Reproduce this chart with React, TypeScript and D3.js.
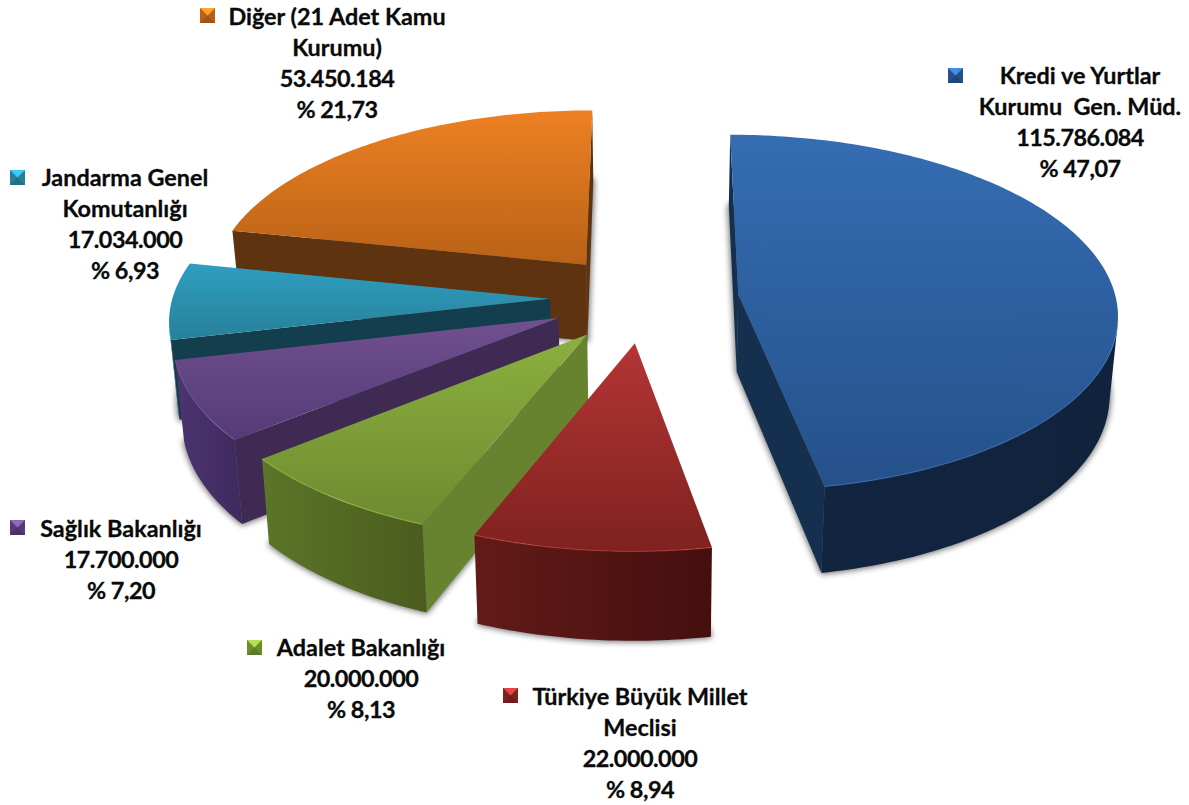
import React from 'react';
import * as d3 from 'd3';

const labelLines = [
  ['Kredi ve Yurtlar', 'Kurumu  Gen. Müd.'],
  ['Türkiye Büyük Millet', 'Meclisi'],
  ['Adalet Bakanlığı'],
  ['Sağlık Bakanlığı'],
  ['Jandarma Genel', 'Komutanlığı'],
  ['Diğer (21 Adet Kamu', 'Kurumu)'],
];
const values = [115786084, 22000000, 20000000, 17700000, 17034000, 53450184];

const topLight = ['#356db3', '#b43535', '#8bb03f', '#71508f', '#2f9ec0', '#ed8023'];
const topDark = ['#25518a', '#7e2220', '#6e8b30', '#553a78', '#27809a', '#b96216'];
const radialColors = ['#15304f', '#621b18', '#68832f', '#3e2a52', '#123e4d', '#5f3210'];
const wallLeft = ['#122540', '#621b18', '#5c7528', '#4c3570', '#123e4d', '#5f3210'];
const wallRight = ['#11223c', '#450f0e', '#4b5c1e', '#3f2a5e', '#123e4d', '#5f3210'];

// label block: center x, first baseline. marker: left, top
const labelX = [1080, 640, 361, 121, 125, 337];
const labelY = [84, 705, 656, 537, 186, 25];
const markerX = [948, 503, 247, 10, 10, 200];
const markerY = [68, 688, 640, 520, 170, 8];

const drawOrder = [5, 0, 4, 3, 2, 1];

// perspective of the pie plane, found from the slice corners
const width = 1189;
const height = 805;
const cx = 652;
const cy = 300;
const radiusX = 378;
const radiusY = 177;
const persp = 0.103;
const depth = 78;
const depthShrink = 0.018;
const explode = 0.25;
const shiftX = -0.02;
const shiftY = 0.01;

const project = (x: number, y: number, z: number): [number, number] => {
  const w = 1 + persp * y;
  return [cx + ((radiusX * x) / w) * (1 - depthShrink * z), cy + (-radiusY * y + depth * z) / w];
};

const area = (pts: [number, number][]) => d3.polygonArea(pts);

const App = () => {
  const svgRef = React.useRef<SVGSVGElement>(null);

  React.useEffect(() => {
    const svg = d3.select(svgRef.current);
    svg.selectAll('*').remove();

    const total = d3.sum(values);
    const locale = d3.formatLocale({ decimal: ',', thousands: '.', grouping: [3], currency: ['', ''] });
    const fmtValue = locale.format(',d');
    const fmtPct = locale.format('.2f');

    const pie = d3.pie<number>().value((d) => d).sort(null).startAngle(0).endAngle(2 * Math.PI);
    const arcs = pie(values);
    const line = d3.line();

    const defs = svg.append('defs');
    defs.append('filter').attr('id', 'soft').attr('x', '-10%').attr('y', '-10%').attr('width', '120%').attr('height', '120%')
      .append('feGaussianBlur').attr('stdDeviation', 3.2);

    arcs.forEach((a, i) => {
      const top = defs.append('linearGradient').attr('id', `top${i}`).attr('x1', 0).attr('y1', 0).attr('x2', 0).attr('y2', 1);
      top.append('stop').attr('offset', 0).attr('stop-color', topLight[i]);
      top.append('stop').attr('offset', 1).attr('stop-color', topDark[i]);
      const wall = defs.append('linearGradient').attr('id', `wall${i}`).attr('x1', 0).attr('y1', 0).attr('x2', 1).attr('y2', 0);
      wall.append('stop').attr('offset', 0).attr('stop-color', wallLeft[i]);
      wall.append('stop').attr('offset', 1).attr('stop-color', wallRight[i]);
    });

    const slices = arcs.map((a, i) => {
      const mid = (a.startAngle + a.endAngle) / 2;
      const ox = explode * Math.sin(mid) + shiftX;
      const oy = explode * Math.cos(mid) + shiftY;
      const n = Math.ceil(((a.endAngle - a.startAngle) * 180) / Math.PI);
      const angles = d3.range(n + 1).map((k) => a.startAngle + ((a.endAngle - a.startAngle) * k) / n);
      const rim = (z: number) => angles.map((t) => project(ox + Math.sin(t), oy + Math.cos(t), z));
      return { i, apexTop: project(ox, oy, 0), apexBot: project(ox, oy, 1), rimTop: rim(0), rimBot: rim(1) };
    });

    // soft shadow comes from the underside, all of them sit behind the slices
    const shadows = svg.append('g').attr('filter', 'url(#soft)');
    slices.forEach((s) => {
      shadows.append('path')
        .attr('d', line([s.apexBot, ...s.rimBot]) + 'Z')
        .attr('fill', '#000').attr('fill-opacity', 0.55)
        .attr('stroke', '#000').attr('stroke-opacity', 0.55).attr('stroke-width', 2);
    });

    drawOrder.forEach((idx) => {
      const s = slices[idx];
      const g = svg.append('g');
      const lastT = s.rimTop[s.rimTop.length - 1];
      const lastB = s.rimBot[s.rimBot.length - 1];

      // the two cut faces, only when they look at the camera
      const faces: [number, number][][] = [
        [s.apexTop, s.rimTop[0], s.rimBot[0], s.apexBot],
        [lastT, s.apexTop, s.apexBot, lastB],
      ];
      faces.forEach((f) => {
        if (area(f) > 0) {
          g.append('path').attr('d', line(f) + 'Z').attr('fill', radialColors[idx]);
        }
      });

      // outer wall, keep the part of the rim that faces us
      const visible = d3.range(s.rimTop.length - 1).filter((k) =>
        area([s.rimTop[k], s.rimTop[k + 1], s.rimBot[k + 1], s.rimBot[k]]) > 0);
      if (visible.length) {
        const from = visible[0];
        const to = visible[visible.length - 1] + 1;
        const upper = s.rimTop.slice(from, to + 1);
        const lower = s.rimBot.slice(from, to + 1).reverse();
        g.append('path').attr('d', line([...upper, ...lower]) + 'Z').attr('fill', `url(#wall${idx})`);
      }

      g.append('path')
        .attr('d', line([s.apexTop, ...s.rimTop]) + 'Z')
        .attr('fill', `url(#top${idx})`);

      // small bevel along the front of the rim
      if (visible.length) {
        const from = visible[0];
        const to = visible[visible.length - 1] + 1;
        g.append('path')
          .attr('d', line(s.rimTop.slice(from, to + 1)))
          .attr('fill', 'none')
          .attr('stroke', d3.color(topLight[idx])!.brighter(0.5).formatHex())
          .attr('stroke-opacity', 0.55)
          .attr('stroke-width', 1.2);
      }
    });

    // labels
    const labels = svg.append('g')
      .attr('font-family', 'Lato, sans-serif')
      .attr('font-weight', 700)
      .attr('font-size', 23.4)
      .attr('fill', '#0a0a0a')
      .attr('stroke', '#0a0a0a')
      .attr('stroke-width', 0.3)
      .attr('text-anchor', 'middle');

    values.forEach((v, i) => {
      const names = labelLines[i];
      const lines = [...names, fmtValue(v), `% ${fmtPct((v / total) * 100)}`];
      lines.forEach((txt, k) => {
        labels.append('text')
          .attr('x', labelX[i])
          .attr('y', labelY[i] + k * 31)
          // Lato digits run wider than the original's, pull the numbers in
          .attr('letter-spacing', k >= names.length ? -0.5 : 0)
          .style('white-space', 'pre')
          .text(txt);
      });

      const m = svg.append('g').attr('transform', `translate(${markerX[i]},${markerY[i]})`);
      m.append('rect').attr('width', 15).attr('height', 15).attr('fill', topDark[i]);
      m.append('path').attr('d', line([[0, 0], [15, 0], [7.5, 7.5]]) + 'Z')
        .attr('fill', d3.color(topLight[i])!.brighter(0.7).formatHex());
      m.append('path').attr('d', line([[0, 15], [15, 15], [7.5, 7.5]]) + 'Z')
        .attr('fill', d3.color(topDark[i])!.darker(0.4).formatHex());
    });
  }, []);

  return (
    <svg
      ref={svgRef}
      width={width}
      height={height}
      style={{ position: 'absolute', left: 0, top: 0, background: '#fff' }}
    />
  );
};

export default App;
